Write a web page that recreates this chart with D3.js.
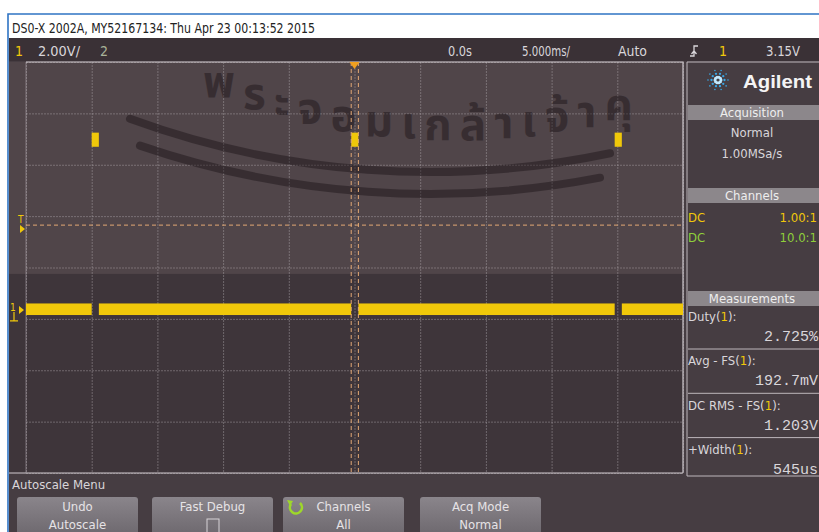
<!DOCTYPE html>
<html><head><meta charset="utf-8">
<script src="https://cdn.jsdelivr.net/npm/d3@7"></script>
<style>
html,body{margin:0;padding:0;background:#fff;}
svg{display:block;}
</style></head>
<body>
<svg id="scope" width="819" height="532"></svg>
<script>
// ---- Channel 1 capture, 5 ms/div horizontal, 2 V/div vertical ----
const timeRange = [-25, 25];                 // ms across 10 divisions
const voltRange = [-6.35, 9.65];             // V across 8 divisions (offset 1.65 V)
const timeGrid = d3.range(-25, 25.001, 5);   // ms
const voltGrid = [-6.35, -4.35, -2.35, -0.35, 1.65, 3.65, 5.65, 7.65, 9.65];

const pulseStarts = [-20.0, -0.25, 19.8];    // ms, rising edges
const pulseWidth = 0.545;                    // ms (+Width 545us)
const lowBand = [-0.2, 0.25];                // V, noise band of the low level
const highBand = [6.35, 6.9];                // V, top of each pulse
const triggerLevel = 3.15;                   // V
const thresholdLevel = 3.3;                  // V, measurement threshold
const groundLevel = 0;                       // V

const statusLeft = ["1", "2.00V/", "2"];
const statusRight = ["0.0s", "5.000ms/", "Auto", "1", "3.15V"];
const acquisition = ["Normal", "1.00MSa/s"];
const channelRows = [["DC", "1.00:1"], ["DC", "10.0:1"]];
const measureNames = ["Duty", "Avg - FS", "DC RMS - FS", "+Width"];
const measureValues = ["2.725%", "192.7mV", "1.203V", "545us"];
const softkeys = [["Undo", "Autoscale"], ["Fast Debug", ""], ["Channels", "All"], ["Acq Mode", "Normal"]];
const stampClusters = ["พ", "ร", "ะ", "จ", "อ", "ม", "เ", "ก", "ล้", "า", "เ", "จ้", "า", "คุ"];

const FONT = "'Liberation Sans Narrow','DejaVu Sans Condensed','Roboto Condensed','Liberation Sans',Arial,sans-serif";
const MONO = "'Liberation Mono','DejaVu Sans Mono',monospace";
const THAI = "'Noto Sans Thai','Noto Sans','DejaVu Sans',sans-serif";
const YEL = "#f0c80a", GRN = "#8fcf3a", TXT = "#d9d6da";

const svg = d3.select("#scope");
const defs = svg.append("defs");

// ---- frame and title ----
svg.append("rect").attr("x", 0).attr("y", 0).attr("width", 819).attr("height", 532).attr("fill", "#ffffff");
svg.append("rect").attr("x", 9).attr("y", 38).attr("width", 810).attr("height", 494).attr("fill", "#463d42");
svg.append("path").attr("d", "M8,532V14H819").attr("fill", "none").attr("stroke", "#2f74c4").attr("stroke-width", 1.6);
svg.append("text").attr("x", 12).attr("y", 33).attr("font-family", FONT).attr("font-size", 14.5)
  .attr("fill", "#222").attr("textLength", 303).attr("lengthAdjust", "spacingAndGlyphs")
  .text("DS0-X 2002A, MY52167134: Thu Apr 23 00:13:52 2015");

// ---- status line ----
svg.append("rect").attr("x", 9).attr("y", 38).attr("width", 810).attr("height", 23).attr("fill", "#3a3136");
const st = svg.append("g").attr("font-family", FONT).attr("font-size", 14).attr("fill", TXT);
st.append("text").attr("x", 15).attr("y", 56).attr("fill", YEL).text(statusLeft[0]);
st.append("text").attr("x", 38).attr("y", 56).attr("textLength", 42).attr("lengthAdjust", "spacingAndGlyphs").text(statusLeft[1]);
st.append("text").attr("x", 100).attr("y", 56).attr("fill", "#a9b49a").text(statusLeft[2]);
st.append("text").attr("x", 448).attr("y", 56).attr("textLength", 24).attr("lengthAdjust", "spacingAndGlyphs").text(statusRight[0]);
st.append("text").attr("x", 522).attr("y", 56).attr("textLength", 48).attr("lengthAdjust", "spacingAndGlyphs").text(statusRight[1]);
st.append("text").attr("x", 618).attr("y", 56).attr("textLength", 29).attr("lengthAdjust", "spacingAndGlyphs").text(statusRight[2]);
// rising-edge trigger symbol
st.append("path").attr("d", "M690,56h4v-10h4M694,51l-2.5,3M694,51l2.5,3").attr("fill", "none").attr("stroke", TXT).attr("stroke-width", 1.3);
st.append("text").attr("x", 719).attr("y", 56).attr("fill", YEL).text(statusRight[3]);
st.append("text").attr("x", 766).attr("y", 56).attr("textLength", 34).attr("lengthAdjust", "spacingAndGlyphs").text(statusRight[4]);

// ---- graticule ----
const x = d3.scaleLinear().domain(timeRange).range([26, 683]);
const y = d3.scaleLinear().domain(voltRange).range([473, 62]);

svg.append("rect").attr("x", 9).attr("y", 62).attr("width", 674).attr("height", 411).attr("fill", "#504549");
svg.append("rect").attr("x", 9).attr("y", y(1.4)).attr("width", 674).attr("height", 473 - y(1.4)).attr("fill", "#3e353a");

const gridX = svg.append("g").attr("transform", `translate(0,62)`)
  .call(d3.axisBottom(x).tickValues(timeGrid).tickSize(411).tickFormat(""));
const gridY = svg.append("g").attr("transform", `translate(26,0)`)
  .call(d3.axisRight(y).tickValues(voltGrid).tickSize(657).tickFormat(""));
[gridX, gridY].forEach(g => {
  g.select(".domain").remove();
  g.selectAll(".tick line").attr("stroke", "#b6adb3").attr("stroke-opacity", 0.42).attr("stroke-width", 1)
    .attr("stroke-dasharray", "2,1");
});
// outer border
svg.append("path").attr("d", `M${x(-25)},${y(9.65)}H${x(25)}V${y(-6.35)}`).attr("fill", "none").attr("stroke", "#cfc9cd").attr("stroke-width", 1.2);
svg.append("path").attr("d", `M9,${y(-6.35)}H${x(25)}`).attr("fill", "none").attr("stroke", "#cfc9cd").attr("stroke-width", 1.2);
svg.append("path").attr("d", `M${x(-25)},${y(9.65)}V${y(-6.35)}`).attr("fill", "none").attr("stroke", "#b6adb3").attr("stroke-opacity", 0.5);

// ---- stamp watermark: letters and rings on wide circular arcs ----
defs.append("clipPath").attr("id", "screenClip").append("rect").attr("x", 9).attr("y", 62).attr("width", 674).attr("height", 411);
const wm = svg.append("g").attr("opacity", 0.45).attr("clip-path", "url(#screenClip)");
const arcY = (c, r, px) => c[1] + Math.sqrt(r * r - (px - c[0]) ** 2);
const ringArc = (c, r, x0, x1) => `M${x0},${arcY(c, r, x0)} A${r},${r} 0 0 0 ${x1},${arcY(c, r, x1)}`;

const textC = [455, -530], textR = 670;
const wmFont = 44, wmStart = 203, wmRun = 430;
const probe = svg.append("text").attr("font-family", THAI).attr("font-size", wmFont).attr("font-weight", 700);
const widths = stampClusters.map(c => { probe.text(c); return probe.node().getComputedTextLength(); });
probe.remove();
const gap = (wmRun - d3.sum(widths)) / (stampClusters.length - 1);
let cx = wmStart;
stampClusters.forEach((c, i) => {
  const mid = cx + widths[i] / 2;
  wm.append("text").attr("x", cx).attr("y", arcY(textC, textR, mid)).attr("font-family", THAI).attr("font-size", wmFont)
    .attr("font-weight", 700).attr("fill", "#1a1216").text(c);
  cx += widths[i] + gap;
});
const ringC = [430, -700];
[[872, 130, 610], [894, 140, 600]].forEach(([r, x0, x1]) =>
  wm.append("path").attr("d", ringArc(ringC, r, x0, x1)).attr("fill", "none").attr("stroke", "#1a1216")
    .attr("stroke-width", 8).attr("stroke-linecap", "round"));

// ---- trace ----
const band = (t0, t1, v) => ({t0, t1, v0: v[0], v1: v[1]});
const lowSegs = [];
let tPrev = timeRange[0];
pulseStarts.forEach(p => { lowSegs.push(band(tPrev, p, lowBand)); tPrev = p + pulseWidth; });
lowSegs.push(band(tPrev, timeRange[1], lowBand));
const highSegs = pulseStarts.map(p => band(p, p + pulseWidth, highBand));

const trace = svg.append("g");
trace.selectAll("rect.low").data(lowSegs).join("rect").attr("class", "low")
  .attr("x", d => x(d.t0)).attr("width", d => x(d.t1) - x(d.t0))
  .attr("y", d => y(d.v1)).attr("height", d => y(d.v0) - y(d.v1)).attr("fill", YEL);
trace.selectAll("rect.high").data(highSegs).join("rect").attr("class", "high")
  .attr("x", d => x(d.t0)).attr("width", d => x(d.t1) - x(d.t0))
  .attr("y", d => y(d.v1)).attr("height", d => y(d.v0) - y(d.v1)).attr("fill", YEL);

// ---- measurement markers ----
const mk = svg.append("g").attr("stroke", "#e2a874").attr("stroke-width", 1).attr("stroke-dasharray", "4,3").attr("fill", "none");
mk.append("line").attr("x1", x(-25)).attr("x2", x(25)).attr("y1", y(thresholdLevel)).attr("y2", y(thresholdLevel));
[pulseStarts[1], pulseStarts[1] + pulseWidth].forEach(t =>
  mk.append("line").attr("x1", x(t)).attr("x2", x(t)).attr("y1", y(9.65)).attr("y2", y(-6.35)));

// trigger position marker (top), trigger level and ground markers (left)
svg.append("path").attr("d", `M${x(0) - 5},${y(9.65)}h10l-5,7z`).attr("fill", "#f0a020");
svg.append("path").attr("d", `M20,${y(triggerLevel) - 4}l5,4l-5,4z`).attr("fill", YEL);
svg.append("text").attr("x", 18).attr("y", y(triggerLevel) - 6).attr("font-family", FONT).attr("font-size", 10).attr("fill", YEL).text("T");
svg.append("path").attr("d", `M19,${y(groundLevel) - 4}l5,4l-5,4z`).attr("fill", YEL);
svg.append("text").attr("x", 10).attr("y", y(groundLevel) + 1).attr("font-family", FONT).attr("font-size", 10).attr("fill", YEL).text("1");
svg.append("path").attr("d", `M14,${y(groundLevel) + 2}v9M10,${y(groundLevel) + 11}h8`).attr("stroke", YEL).attr("stroke-width", 1.2);

// ---- right side panel ----
const px = 685;
svg.append("path").attr("d", `M${px + 2},62H819M${px + 2},62V476H819`).attr("fill", "none").attr("stroke", "#bdb7bb").attr("stroke-width", 1);
// logo spark
const logo = svg.append("g").attr("transform", "translate(718,80)");
d3.range(10).forEach(i => {
  const a = i / 10 * 2 * Math.PI;
  [3, 6.5, 10].forEach((r, k) => logo.append("circle")
    .attr("cx", Math.cos(a) * r).attr("cy", Math.sin(a) * r).attr("r", 1.5 - k * 0.35).attr("fill", k === 0 ? "#bfe9ff" : "#38a8e8"));
});
svg.append("text").attr("x", 743).attr("y", 88).attr("font-family", "'Liberation Sans',Arial,sans-serif").attr("font-weight", 700)
  .attr("font-size", 19).attr("fill", "#f4f4f4").attr("textLength", 69).attr("lengthAdjust", "spacingAndGlyphs").text("Agilent");

const header = (y0, label) => {
  svg.append("rect").attr("x", px + 3).attr("y", y0).attr("width", 819 - px - 3).attr("height", 15).attr("fill", "#8c878b");
  svg.append("text").attr("x", 752).attr("y", y0 + 12).attr("text-anchor", "middle").attr("font-family", FONT)
    .attr("font-size", 13).attr("fill", "#eeeeee").text(label);
};
header(105, "Acquisition");
svg.selectAll("text.acq").data(acquisition).join("text").attr("class", "acq")
  .attr("x", 752).attr("y", (d, i) => 137 + i * 21).attr("text-anchor", "middle")
  .attr("font-family", FONT).attr("font-size", 13).attr("fill", TXT).text(d => d);

header(188, "Channels");
const chCol = [YEL, GRN];
channelRows.forEach((r, i) => {
  svg.append("text").attr("x", 688).attr("y", 222 + i * 20).attr("font-family", FONT).attr("font-size", 13).attr("fill", chCol[i]).text(r[0]);
  svg.append("text").attr("x", 817).attr("y", 222 + i * 20).attr("text-anchor", "end").attr("font-family", FONT).attr("font-size", 13).attr("fill", chCol[i]).text(r[1]);
});

header(291, "Measurements");
measureNames.forEach((n, i) => {
  const y0 = 321 + i * 44.3;
  const t = svg.append("text").attr("x", 688).attr("y", y0).attr("font-family", FONT).attr("font-size", 13).attr("fill", TXT);
  t.append("tspan").text(n + "(");
  t.append("tspan").attr("fill", YEL).text("1");
  t.append("tspan").text("):");
  svg.append("text").attr("x", 818).attr("y", y0 + 20).attr("text-anchor", "end").attr("font-family", MONO)
    .attr("font-size", 15).attr("fill", TXT).text(measureValues[i]);
  if (i < 3) svg.append("line").attr("x1", px + 3).attr("x2", 819).attr("y1", y0 + 28).attr("y2", y0 + 28)
    .attr("stroke", "#bdb7bb").attr("stroke-width", 1);
});

// ---- softkey menu ----
svg.append("text").attr("x", 12).attr("y", 489).attr("font-family", FONT).attr("font-size", 13).attr("fill", TXT).text("Autoscale Menu");
const keyX = [17, 152, 283, 420], keyW = 121;
const grad = defs.append("linearGradient").attr("id", "keyGrad").attr("x1", 0).attr("x2", 0).attr("y1", 0).attr("y2", 1);
grad.append("stop").attr("offset", 0).attr("stop-color", "#8a858b");
grad.append("stop").attr("offset", 1).attr("stop-color", "#6c676d");
softkeys.forEach((k, i) => {
  svg.append("rect").attr("x", keyX[i]).attr("y", 497).attr("width", keyW).attr("height", 40).attr("rx", 3).attr("fill", "url(#keyGrad)");
  svg.append("text").attr("x", keyX[i] + keyW / 2).attr("y", 511).attr("text-anchor", "middle").attr("font-family", FONT)
    .attr("font-size", 13).attr("fill", "#e6e3e6").text(k[0]);
  svg.append("text").attr("x", keyX[i] + keyW / 2).attr("y", 529).attr("text-anchor", "middle").attr("font-family", FONT)
    .attr("font-size", 13).attr("fill", "#e6e3e6").text(k[1]);
});
// checkbox for Fast Debug, rotate icon for Channels
svg.append("rect").attr("x", 207).attr("y", 519).attr("width", 12).attr("height", 14).attr("fill", "none").attr("stroke", "#d8d4d8");
svg.append("path").attr("d", "M300,503 A6,6 0 1 1 291,504").attr("fill", "none").attr("stroke", "#9ed82a").attr("stroke-width", 2.6);
svg.append("path").attr("d", "M287,500l6,1l-3,5z").attr("fill", "#9ed82a");
</script>
</body></html>
